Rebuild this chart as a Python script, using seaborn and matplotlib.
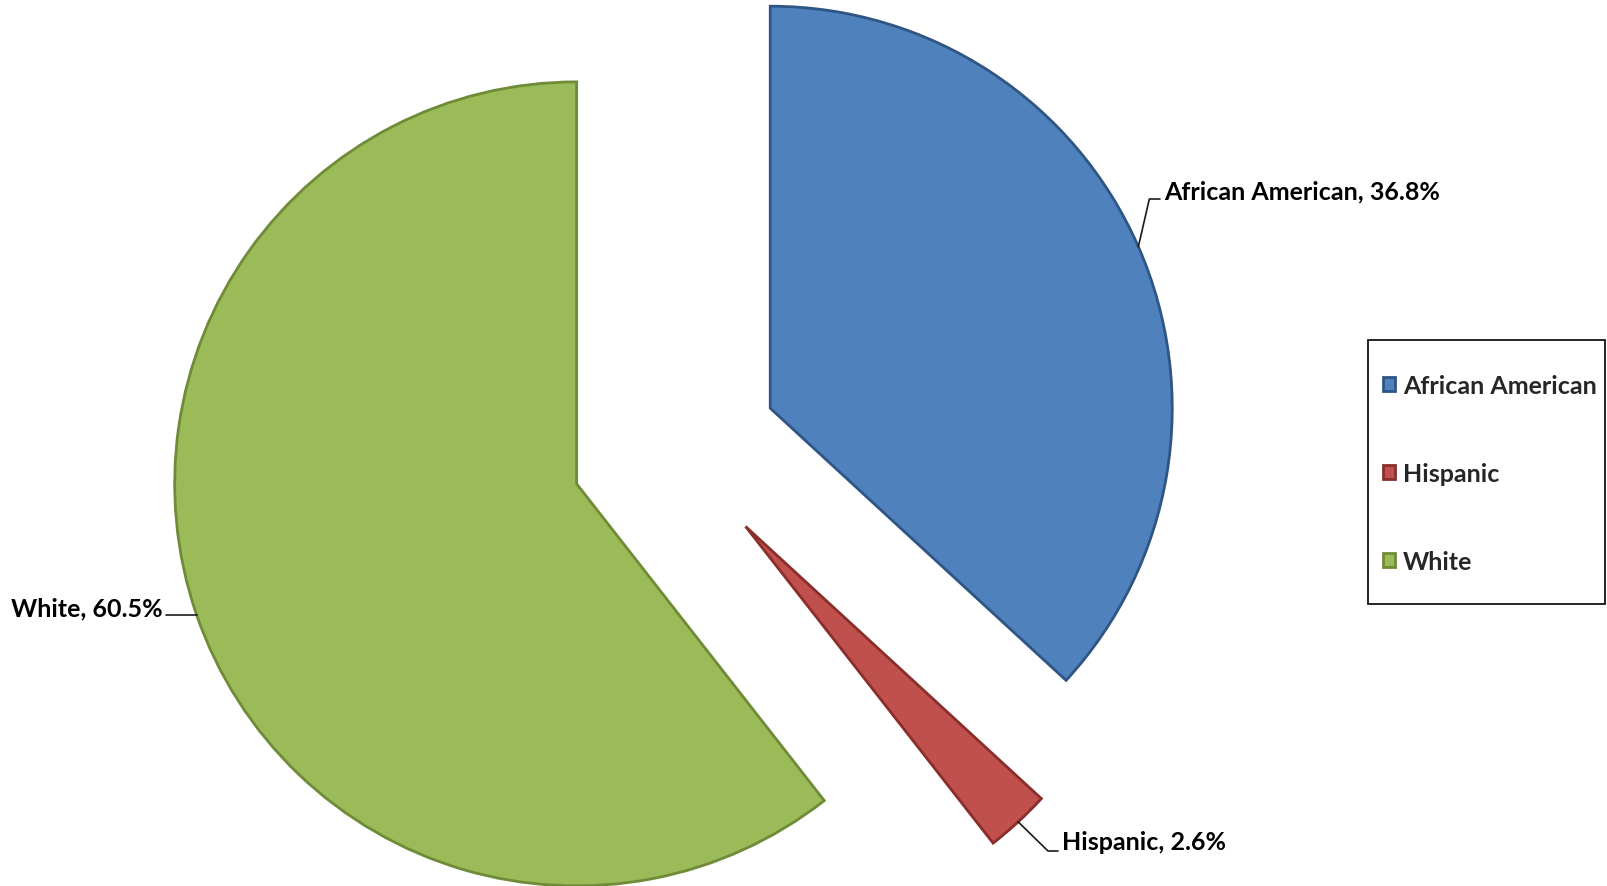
import numpy as np
import matplotlib
matplotlib.use("Agg")
import matplotlib.pyplot as plt
from matplotlib.patches import Rectangle
import seaborn as sns

# Share of each group (percent)
groups = ["African American", "Hispanic", "White"]
shares = [36.8, 2.6, 60.5]
colors = ["#4F81BD", "#C0504D", "#9BBB59"]
edges = ["#2F5584", "#8A2E2B", "#6F8B38"]

W, H = 1608, 887

sns.set_theme(style="white")
plt.rcParams["font.family"] = ["Lato", "DejaVu Sans"]
plt.rcParams["font.weight"] = "bold"

fig = plt.figure(figsize=(W / 100, H / 100), dpi=100)
ax = fig.add_axes([0, 0, 1, 1])

radius = 402
wedges, _ = ax.pie(
    shares,
    colors=colors,
    startangle=90,
    counterclock=False,
    radius=radius,
    center=(675, H - 451),
    explode=[104] * len(shares),
    wedgeprops=dict(linewidth=2.0),
    normalize=True,
)
for w, ec in zip(wedges, edges):
    w.set_edgecolor(ec)
# pie() resets the limits, so map data units to pixels afterwards
ax.set_xlim(0, W)
ax.set_ylim(0, H)
ax.set_aspect("auto")
ax.axis("off")


def arc_point(w):
    mid = np.deg2rad(0.5 * (w.theta1 + w.theta2))
    cx, cy = w.center
    return cx + w.r * np.cos(mid), cy + w.r * np.sin(mid)


fs = 18
lc = "#1a1a1a"

# African American: leader goes up to the right, label on the right
x0, y0 = arc_point(wedges[0])
ly = H - 200
ax.plot([x0, x0 + 11, 1160], [y0, ly, ly], color=lc, lw=1.2)
ax.text(1164, ly + 8, f"{groups[0]}, {shares[0]:.1f}%", ha="left", va="center",
        fontsize=fs, fontweight="bold", color="black")

# Hispanic: leader goes down to the right
x1, y1 = arc_point(wedges[1])
ly = H - 852
ax.plot([x1, 1048, 1058], [y1, ly, ly], color=lc, lw=1.2)
ax.text(1062, ly + 9, f"{groups[1]}, {shares[1]:.1f}%", ha="left", va="center",
        fontsize=fs, fontweight="bold", color="black")

# White: horizontal leader to the left
x2, y2 = arc_point(wedges[2])
ax.plot([x2, 166], [y2, y2], color=lc, lw=1.2)
ax.text(163, y2 + 7, f"{groups[2]}, {shares[2]:.1f}%", ha="right", va="center",
        fontsize=fs, fontweight="bold", color="black")

# Legend frame drawn separately so the padding can differ per side
box = Rectangle((1368, H - 605), 1605 - 1368, 605 - 341, fill=False,
                edgecolor="black", linewidth=1.2, zorder=3)
ax.add_patch(box)

leg = ax.legend(
    wedges, groups,
    loc="upper left",
    bbox_to_anchor=(1383, H - 375),
    bbox_transform=ax.transData,
    borderaxespad=0,
    borderpad=0,
    frameon=False,
    prop=dict(family=["Lato", "DejaVu Sans"], weight="bold", size=fs),
    handlelength=0.5,
    handleheight=0.5,
    handletextpad=0.3,
    labelspacing=2.6,
)

fig.savefig("out.png", dpi=100)
